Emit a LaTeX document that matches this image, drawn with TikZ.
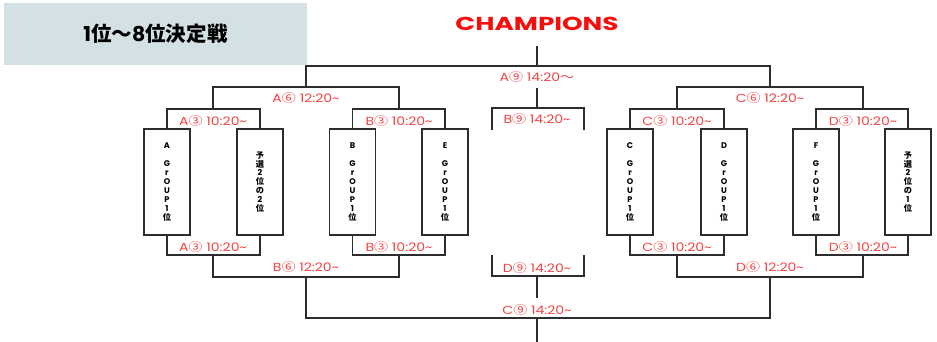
\documentclass[tikz,border=0pt]{standalone}
\usepackage{fontspec}
\setmainfont{Poppins}
\newfontfamily\cjk{Noto Sans CJK JP}
\newcommand{\jp}[1]{{\cjk #1}}
\newcommand{\wide}[1]{\scalebox{1.2}[1]{#1}}
\definecolor{headfill}{RGB}{211,224,228}
\definecolor{matchred}{RGB}{243,66,66}
\definecolor{champred}{RGB}{248,12,12}
\definecolor{linegray}{RGB}{45,45,45}

\tikzset{
  team/.style={draw=linegray, line width=0.9pt, minimum width=13.8mm, minimum height=31.8mm,
    inner sep=0pt, align=center, font=\fontsize{7}{7.65}\selectfont\bfseries},
  match/.style={text=matchred, inner sep=0pt, font=\fontsize{10}{11}\selectfont},
  bracket/.style={draw=linegray, line width=0.9pt}
}

\begin{document}
\begin{tikzpicture}[x=0.3mm,y=-0.3mm]
    \useasboundingbox (0,0) rectangle (937,342);

    % title and champion
    \node[fill=headfill, minimum width=90.9mm, minimum height=18.6mm, inner sep=0pt,
      font=\fontsize{17.5}{19}\selectfont\bfseries] (head) at (155.5,34) {1\jp{位～}8\jp{位決定戦}};
    \node[text=champred, inner sep=0pt, font=\fontsize{16}{18}\selectfont\bfseries] (champ) at (537,24)
      {\scalebox{1.4}[1]{CHAMPIONS}};

    % teams
    \node[team] (g1) at (167,182) {A\\~\\G\\r\\O\\U\\P\\1\\\jp{位}};
    \node[team] (g2) at (260,182) {\jp{予}\\\jp{選}\\2\\\jp{位}\\\jp{の}\\2\\\jp{位}};
    \node[team] (g3) at (352.5,182) {B\\~\\G\\r\\O\\U\\P\\1\\\jp{位}};
    \node[team] (g4) at (445,182) {E\\~\\G\\r\\O\\U\\P\\1\\\jp{位}};
    \node[team] (g5) at (630,182) {C\\~\\G\\r\\O\\U\\P\\1\\\jp{位}};
    \node[team] (g6) at (724,182) {D\\~\\G\\r\\O\\U\\P\\1\\\jp{位}};
    \node[team] (g7) at (816,182) {F\\~\\G\\r\\O\\U\\P\\1\\\jp{位}};
    \node[team] (g8) at (908,182) {\jp{予}\\\jp{選}\\2\\\jp{位}\\\jp{の}\\1\\\jp{位}};

    % junctions, top half
    \coordinate (t12) at (213,109);
    \coordinate (t34) at (399,109);
    \coordinate (t56) at (677,109);
    \coordinate (t78) at (863,109);
    \coordinate (tL) at (306,87);
    \coordinate (tR) at (770,87);
    \coordinate (top) at (537,66);
    \coordinate (c0) at (537,46);
    \coordinate (bq0) at (537,88);
    \coordinate (bq) at (537,108);
    \coordinate (bql) at (492,130);
    \coordinate (bqr) at (584,130);

    % junctions, bottom half
    \coordinate (b12) at (213,255);
    \coordinate (b34) at (399,255);
    \coordinate (b56) at (677,255);
    \coordinate (b78) at (863,255);
    \coordinate (bL) at (306,277);
    \coordinate (bR) at (770,277);
    \coordinate (bot) at (537,318);
    \coordinate (bend) at (537,342);
    \coordinate (dq) at (537,276);
    \coordinate (dq0) at (537,298);
    \coordinate (dql) at (492,255);
    \coordinate (dqr) at (584,255);

    % brackets, top
    \draw[bracket] (g1.north) |- (t12) -| (g2.north);
    \draw[bracket] (g3.north) |- (t34) -| (g4.north);
    \draw[bracket] (g5.north) |- (t56) -| (g6.north);
    \draw[bracket] (g7.north) |- (t78) -| (g8.north);
    \draw[bracket] (t12) |- (tL) -| (t34);
    \draw[bracket] (t56) |- (tR) -| (t78);
    \draw[bracket] (tL) |- (top) -| (tR);
    \draw[bracket] (c0) -- (top);
    \draw[bracket] (bq0) -- (bq);
    \draw[bracket] (bql) |- (bq) -| (bqr);

    % brackets, bottom
    \draw[bracket] (g1.south) |- (b12) -| (g2.south);
    \draw[bracket] (g3.south) |- (b34) -| (g4.south);
    \draw[bracket] (g5.south) |- (b56) -| (g6.south);
    \draw[bracket] (g7.south) |- (b78) -| (g8.south);
    \draw[bracket] (b12) |- (bL) -| (b34);
    \draw[bracket] (b56) |- (bR) -| (b78);
    \draw[bracket] (bL) |- (bot) -| (bR);
    \draw[bracket] (bot) -- (bend);
    \draw[bracket] (dql) |- (dq) -| (dqr);
    \draw[bracket] (dq) -- (dq0);

    % match labels
    \node[match] (a3t) at (213,121) {\wide{A\jp{③} 10:20\textasciitilde}};
    \node[match] (b3t) at (399,121) {\wide{B\jp{③} 10:20\textasciitilde}};
    \node[match] (c3t) at (677,121) {\wide{C\jp{③} 10:20\textasciitilde}};
    \node[match] (d3t) at (863,121) {\wide{D\jp{③} 10:20\textasciitilde}};
    \node[match] (a6) at (306,98) {\wide{A\jp{⑥} 12:20\textasciitilde}};
    \node[match] (c6) at (770,98) {\wide{C\jp{⑥} 12:20\textasciitilde}};
    \node[match] (a9) at (537,77) {\wide{A\jp{⑨} 14:20\jp{～}}};
    \node[match] (b9) at (537,119) {\wide{B\jp{⑨} 14:20\textasciitilde}};
    \node[match] (a3b) at (213,247) {\wide{A\jp{③} 10:20\textasciitilde}};
    \node[match] (b3b) at (399,247) {\wide{B\jp{③} 10:20\textasciitilde}};
    \node[match] (c3b) at (677,247) {\wide{C\jp{③} 10:20\textasciitilde}};
    \node[match] (d3b) at (863,247) {\wide{D\jp{③} 10:20\textasciitilde}};
    \node[match] (b6) at (306,267) {\wide{B\jp{⑥} 12:20\textasciitilde}};
    \node[match] (d6) at (770,267) {\wide{D\jp{⑥} 12:20\textasciitilde}};
    \node[match] (d9) at (537,268) {\wide{D\jp{⑨} 14:20\textasciitilde}};
    \node[match] (c9) at (537,310) {\wide{C\jp{⑨} 14:20\textasciitilde}};
\end{tikzpicture}
\end{document}
